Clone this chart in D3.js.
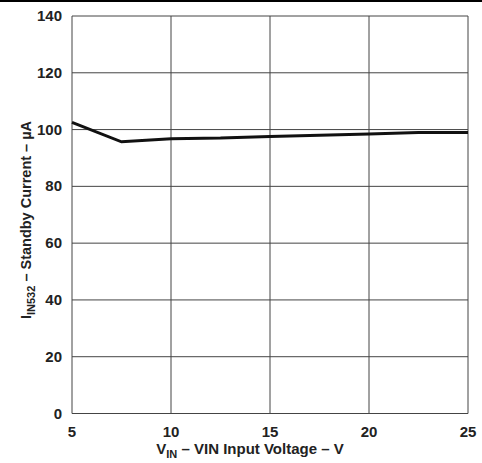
<!DOCTYPE html>
<html>
<head>
<meta charset="utf-8">
<script src="https://cdn.jsdelivr.net/npm/d3@7"></script>
<style>
  body { margin: 0; background: #fff; }
  text { font-family: "Liberation Sans", Arial, sans-serif; font-weight: bold; fill: #222; }
</style>
</head>
<body>
<div id="chart"></div>
<script>
const vin = [5, 7.5, 10, 12.5, 15, 17.5, 20, 22.5, 25];
const current = [102.5, 95.7, 96.8, 97.0, 97.6, 98.0, 98.4, 99.0, 99.0];
const xTicks = [5, 10, 15, 20, 25];
const yTicks = [0, 20, 40, 60, 80, 100, 120, 140];

const width = 482, height = 463;
const margin = { left: 72, right: 14, top: 16, bottom: 50 };

const svg = d3.select('#chart').append('svg')
  .attr('width', width)
  .attr('height', height);

// top rule
svg.append('line')
  .attr('x1', 0).attr('x2', width)
  .attr('y1', 1).attr('y2', 1)
  .attr('stroke', '#000').attr('stroke-width', 2);

const x = d3.scaleLinear().domain([5, 25]).range([margin.left, width - margin.right]);
const y = d3.scaleLinear().domain([0, 140]).range([height - margin.bottom + 0.5, margin.top]);

// grid
svg.append('g').selectAll('line')
  .data(xTicks)
  .enter().append('line')
  .attr('x1', d => x(d)).attr('x2', d => x(d))
  .attr('y1', y(0)).attr('y2', y(140))
  .attr('stroke', '#444').attr('stroke-width', 1);

svg.append('g').selectAll('line')
  .data(yTicks)
  .enter().append('line')
  .attr('x1', x(5)).attr('x2', x(25))
  .attr('y1', d => y(d)).attr('y2', d => y(d))
  .attr('stroke', '#444').attr('stroke-width', 1);

// tick labels
svg.append('g').selectAll('text')
  .data(yTicks)
  .enter().append('text')
  .attr('x', x(5) - 10)
  .attr('y', d => y(d) + 5)
  .attr('text-anchor', 'end')
  .attr('font-size', 15)
  .text(d => d);

svg.append('g').selectAll('text')
  .data(xTicks)
  .enter().append('text')
  .attr('x', d => x(d))
  .attr('y', y(0) + 23)
  .attr('text-anchor', 'middle')
  .attr('font-size', 15)
  .text(d => d);

// data line
const line = d3.line()
  .x((d, i) => x(vin[i]))
  .y(d => y(d));

svg.append('path')
  .datum(current)
  .attr('d', line)
  .attr('fill', 'none')
  .attr('stroke', '#111')
  .attr('stroke-width', 3);

// axis titles
const xTitle = svg.append('text')
  .attr('x', 250)
  .attr('y', 454)
  .attr('text-anchor', 'middle')
  .attr('font-size', 15);
xTitle.append('tspan').text('V');
xTitle.append('tspan').attr('dy', 4).attr('font-size', 11).text('IN');
xTitle.append('tspan').attr('dy', -4).text(' \u2013 VIN Input Voltage \u2013 V');

const yTitle = svg.append('text')
  .attr('transform', 'translate(31, 220) rotate(-90)')
  .attr('text-anchor', 'middle')
  .attr('font-size', 14.5);
yTitle.append('tspan').text('I');
yTitle.append('tspan').attr('dy', 4).attr('font-size', 11).text('IN532');
yTitle.append('tspan').attr('dy', -4).text(' \u2013 Standby Current \u2013 \u00b5A');
</script>
</body>
</html>
